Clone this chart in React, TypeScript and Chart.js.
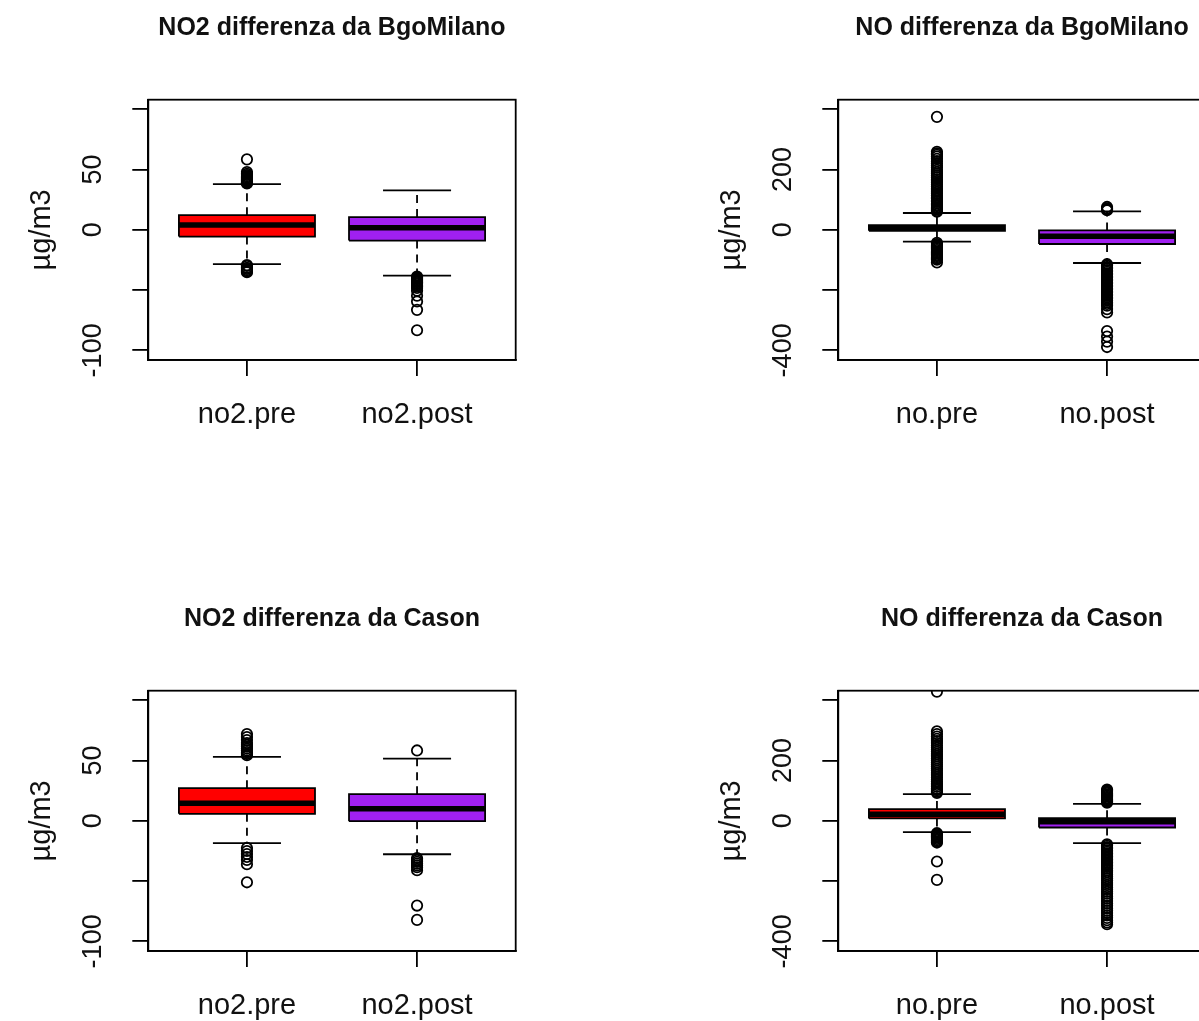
import React, { useEffect, useRef } from "react";
import { Chart, registerables } from "chart.js";

Chart.register(...registerables);

const FONT = "'Liberation Sans', Arial, Helvetica, sans-serif";

const TITLES = [
  "NO2 differenza da BgoMilano",
  "NO differenza da BgoMilano",
  "NO2 differenza da Cason",
  "NO differenza da Cason",
];
const NO2_CATEGORIES = ["no2.pre", "no2.post"];
const NO_CATEGORIES = ["no.pre", "no.post"];
const Y_TITLE = "µg/m3";

const NO2_TICKS = [-100, -50, 0, 50, 100];
const NO2_TICK_LABELS = ["-100", "", "0", "50", ""];
const NO_TICKS = [-400, -200, 0, 200, 400];
const NO_TICK_LABELS = ["-400", "", "0", "200", ""];
const NO2_LIMIT = 100;
const NO_LIMIT = 400;

// [lower whisker, Q1, median, Q3, upper whisker]
const BGO_NO2_PRE = [-28.5, -5.6, 4.0, 12.2, 38];
const BGO_NO2_POST = [-38, -8.9, 1.7, 10.6, 32.8];
const BGO_NO_PRE = [-39, -3, 7, 16, 56];
const BGO_NO_POST = [-110, -47, -21, -2, 61];
const CAS_NO2_PRE = [-18.5, 5.8, 14.7, 27.1, 53.1];
const CAS_NO2_POST = [-27.7, -0.3, 10, 22.1, 51.7];
const CAS_NO_PRE = [-37.6, 8, 22, 39, 88.5];
const CAS_NO_POST = [-74, -22, -3, 9, 56.4];

// outliers
const BGO_NO2_PRE_OUT = [58.5, 48, 46.5, 45.5, 44.5, 43.5, 42.5, 41.8, 41, 40.3, 39.6, 39, 38.5,
  -29.3, -30, -31.5, -32.5, -33.5, -34.5, -35.2];
const BGO_NO2_POST_OUT = [-38.8, -39.5, -40.2, -41, -41.8, -42.6, -43.4, -44.2, -45, -46, -47, -48.2,
  -50.5, -54.7, -59.4, -66.4, -83.3];
const BGO_NO_PRE_OUT = [375, 259, 254, 249, 243, 236, 228, 220, 213, 207, 199, 192, 186, 180, 174, 168,
  162, 156, 150, 144, 138, 132, 126, 120, 114, 108, 103, 98, 93, 88, 83, 79, 75, 71, 67, 63, 60,
  -43, -47, -51, -55, -59, -63, -67, -71, -75, -79, -83, -87, -91, -95, -99, -108];
const BGO_NO_POST_OUT = [65, 68, 71, 76,
  -114, -119, -124, -129, -134, -139, -144, -149, -154, -159, -164, -169, -174, -179, -184, -189,
  -194, -199, -204, -209, -214, -219, -224, -229, -234, -240, -246, -252, -263, -274, -336, -354,
  -371, -389];
const CAS_NO2_PRE_OUT = [72, 69.5, 67, 64.5, 63, 61.5, 60, 58.5, 57, 55.5, 54.5,
  -22.5, -25, -27.5, -30, -32.5, -36, -51];
const CAS_NO2_POST_OUT = [58.4, -31, -32.5, -34, -35.5, -37, -38.5, -41, -70.3, -82.2];
const CAS_NO_PRE_OUT = [429, 297, 288, 280, 272, 265, 258, 250, 243, 236, 229, 222, 215, 208, 201, 194,
  187, 180, 173, 166, 159, 152, 145, 138, 131, 125, 119, 113, 107, 102, 97, 93,
  -41, -44, -47, -50, -53, -56, -60, -64, -68, -72, -135, -196];
const CAS_NO_POST_OUT = [60, 64, 68, 72, 76, 80, 84, 88, 92, 96, 100, 104,
  -78, -83, -88, -93, -98, -103, -108, -113, -118, -123, -128, -133, -138, -143, -148, -153, -158,
  -164, -170, -177, -184, -191, -198, -206, -213, -220, -227, -235, -242, -250, -258, -266, -274,
  -282, -290, -298, -306, -314, -322, -330, -337, -343];

const PRE_COLOR = "#FF0000";
const POST_COLOR = "#A020F0";

const BOX_HALF = 0.4;
const CAP_HALF = 0.2;
const LINE_W = 1.8;

const CANVAS_W = 600;
const CANVAS_H = 591;

type PanelDef = {
  title: string;
  categories: string[];
  stats: number[][];
  outliers: number[][];
  ticks: number[];
  tickLabels: string[];
  limit: number;
  left: number;
  top: number;
};

const PANELS: PanelDef[] = [
  { title: TITLES[0], categories: NO2_CATEGORIES, stats: [BGO_NO2_PRE, BGO_NO2_POST], outliers: [BGO_NO2_PRE_OUT, BGO_NO2_POST_OUT], ticks: NO2_TICKS, tickLabels: NO2_TICK_LABELS, limit: NO2_LIMIT, left: 0, top: 0 },
  { title: TITLES[1], categories: NO_CATEGORIES, stats: [BGO_NO_PRE, BGO_NO_POST], outliers: [BGO_NO_PRE_OUT, BGO_NO_POST_OUT], ticks: NO_TICKS, tickLabels: NO_TICK_LABELS, limit: NO_LIMIT, left: 690, top: 0 },
  { title: TITLES[2], categories: NO2_CATEGORIES, stats: [CAS_NO2_PRE, CAS_NO2_POST], outliers: [CAS_NO2_PRE_OUT, CAS_NO2_POST_OUT], ticks: NO2_TICKS, tickLabels: NO2_TICK_LABELS, limit: NO2_LIMIT, left: 0, top: 591 },
  { title: TITLES[3], categories: NO_CATEGORIES, stats: [CAS_NO_PRE, CAS_NO_POST], outliers: [CAS_NO_PRE_OUT, CAS_NO_POST_OUT], ticks: NO_TICKS, tickLabels: NO_TICK_LABELS, limit: NO_LIMIT, left: 690, top: 591 },
];

const framePlugin = {
  id: "frame",
  afterDraw(chart: any) {
    const { ctx, chartArea: a } = chart;
    ctx.save();
    ctx.strokeStyle = "#000";
    ctx.lineWidth = LINE_W;
    ctx.strokeRect(a.left, a.top, a.right - a.left, a.bottom - a.top);
    ctx.restore();
  },
};

function lineDs(data: { x: number; y: number }[], order: number, extra: any = {}) {
  return {
    type: "line",
    data,
    borderColor: "#000",
    borderWidth: LINE_W,
    pointRadius: 0,
    pointHoverRadius: 0,
    tension: 0,
    fill: false,
    order,
    ...extra,
  };
}

function buildDatasets(p: PanelDef) {
  const colors = [PRE_COLOR, POST_COLOR];
  const ds: any[] = [];
  p.stats.forEach((s, i) => {
    const pos = i + 1;
    const [lo, q1, med, q3, hi] = s;
    ds.push({
      type: "scatter",
      data: p.outliers[i].map((v) => ({ x: pos, y: v })),
      pointStyle: "circle",
      pointRadius: 5.2,
      pointHoverRadius: 5.2,
      pointBorderWidth: LINE_W,
      pointBorderColor: "#000",
      pointBackgroundColor: "rgba(0,0,0,0)",
      showLine: false,
      clip: 0,
      order: 0,
    });
    ds.push(lineDs([{ x: pos - BOX_HALF, y: med }, { x: pos + BOX_HALF, y: med }], 1, { borderWidth: 5.5 }));
    ds.push(lineDs([{ x: pos - CAP_HALF, y: hi }, { x: pos + CAP_HALF, y: hi }], 2));
    ds.push(lineDs([{ x: pos - CAP_HALF, y: lo }, { x: pos + CAP_HALF, y: lo }], 2));
    ds.push(lineDs([{ x: pos, y: q3 }, { x: pos, y: hi }], 3, { borderDash: [8, 6] }));
    ds.push(lineDs([{ x: pos, y: q1 }, { x: pos, y: lo }], 3, { borderDash: [8, 6] }));
    ds.push(
      lineDs(
        [
          { x: pos - BOX_HALF, y: q1 },
          { x: pos + BOX_HALF, y: q1 },
          { x: pos + BOX_HALF, y: q3 },
          { x: pos - BOX_HALF, y: q3 },
          { x: pos - BOX_HALF, y: q1 },
        ],
        4,
        { fill: "shape", backgroundColor: colors[i] }
      )
    );
  });
  return ds;
}

function makeConfig(p: PanelDef): any {
  const n = p.categories.length;
  const xPad = n * 0.04;
  return {
    type: "scatter",
    data: { datasets: buildDatasets(p) },
    options: {
      animation: false,
      responsive: false,
      devicePixelRatio: 1,
      events: [],
      layout: { padding: { left: 0, right: 84.3, top: 0, bottom: 131 } },
      plugins: {
        legend: { display: false },
        tooltip: { enabled: false },
        title: {
          display: true,
          text: p.title,
          fullSize: false,
          color: "#111",
          font: { family: FONT, size: 25, weight: "bold", lineHeight: 1.2 },
          padding: { top: 13.6, bottom: 56.1 },
        },
      },
      scales: {
        x: {
          type: "linear",
          bounds: "data",
          min: 0.5 - xPad,
          max: n + 0.5 + xPad,
          afterBuildTicks: (s: any) => {
            s.ticks = p.categories.map((_, i) => ({ value: i + 1 }));
          },
          afterFit: (s: any) => {
            s.height = 100;
          },
          grid: { drawOnChartArea: false, drawTicks: true, tickLength: 16, color: "#000", lineWidth: LINE_W },
          border: { display: true, color: "#000", width: LINE_W },
          ticks: {
            autoSkip: false,
            minRotation: 0,
            maxRotation: 0,
            padding: 22,
            color: "#111",
            font: { family: FONT, size: 29 },
            callback: (_v: any, i: number) => p.categories[i],
          },
        },
        y: {
          type: "linear",
          bounds: "data",
          min: -p.limit * 1.08,
          max: p.limit * 1.08,
          afterBuildTicks: (s: any) => {
            s.ticks = p.ticks.map((v) => ({ value: v }));
          },
          afterFit: (s: any) => {
            s.width = 148.3;
          },
          grid: { drawOnChartArea: false, drawTicks: true, tickLength: 16, color: "#000", lineWidth: LINE_W },
          border: { display: true, color: "#000", width: LINE_W },
          ticks: {
            autoSkip: false,
            minRotation: 90,
            maxRotation: 90,
            crossAlign: "center",
            padding: 12,
            color: "#111",
            font: { family: FONT, size: 27 },
            callback: (_v: any, i: number) => p.tickLabels[i],
          },
          title: {
            display: true,
            text: Y_TITLE,
            color: "#111",
            font: { family: FONT, size: 29 },
            padding: { top: 25, bottom: 0 },
          },
        },
      },
    },
    plugins: [framePlugin],
  };
}

function Panel({ p }: { p: PanelDef }) {
  const ref = useRef<HTMLCanvasElement | null>(null);
  useEffect(() => {
    if (!ref.current) return;
    const chart = new Chart(ref.current, makeConfig(p));
    return () => chart.destroy();
  }, [p]);
  return (
    <canvas
      ref={ref}
      width={CANVAS_W}
      height={CANVAS_H}
      style={{ position: "absolute", left: p.left, top: p.top, width: CANVAS_W, height: CANVAS_H }}
    />
  );
}

export default function App() {
  return (
    <div
      style={{
        position: "fixed",
        left: 0,
        top: 0,
        width: 1199,
        height: 1021,
        overflow: "hidden",
        background: "#fff",
      }}
    >
      {PANELS.map((p, i) => (
        <Panel key={i} p={p} />
      ))}
    </div>
  );
}
